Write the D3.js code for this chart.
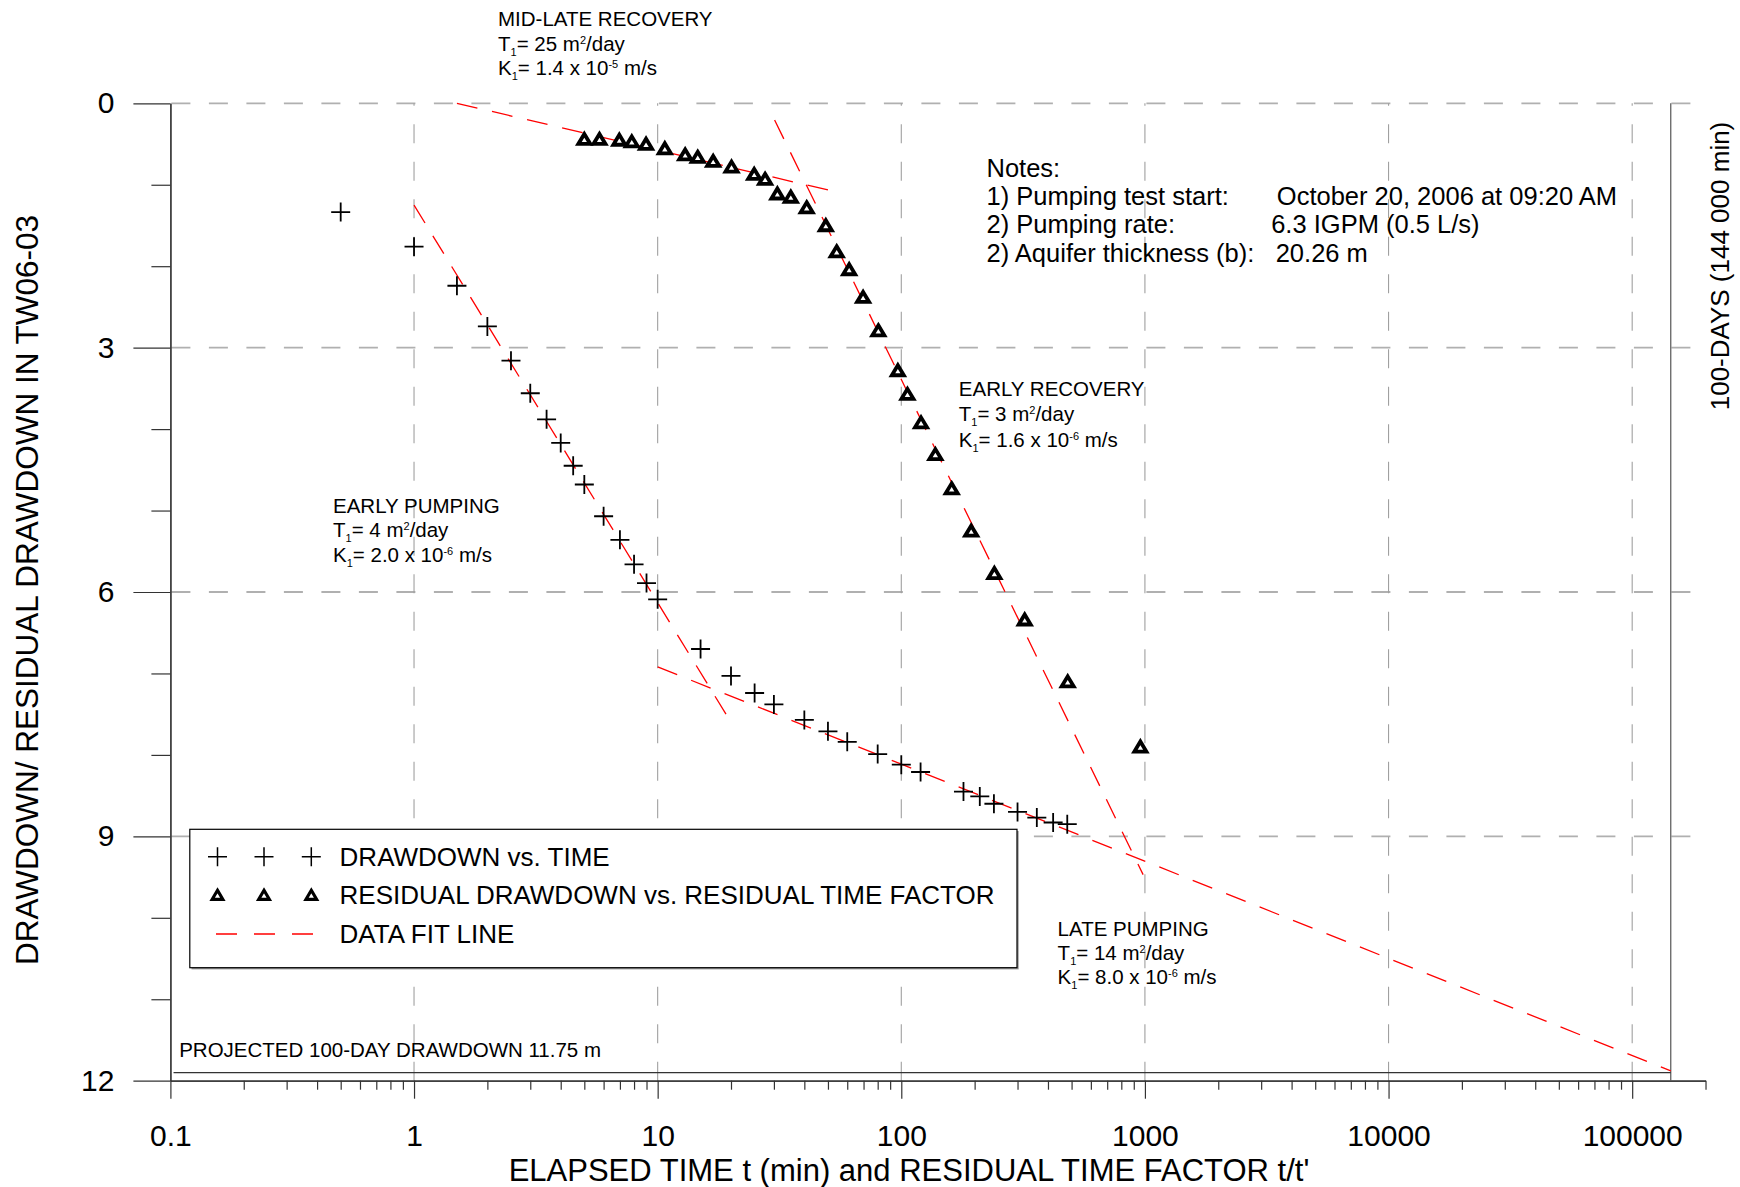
<!DOCTYPE html>
<html>
<head>
<meta charset="utf-8">
<script src="https://cdn.jsdelivr.net/npm/d3@7"></script>
<style>
  html, body { margin: 0; padding: 0; background: #fff; }
  svg { display: block; }
  text { font-family: "Liberation Sans", Arial, Helvetica, sans-serif; fill: #000; }
</style>
</head>
<body>
<svg id="chart" width="1740" height="1187"></svg>
<script>
// ---------------- DATA ----------------
// Drawdown vs. elapsed time (min, m)
const drawdownTime = [0.5, 1, 1.5, 2, 2.5, 3, 3.5, 4, 4.5, 5, 6, 7, 8, 9, 10, 15, 20, 25, 30, 40, 50, 60, 80, 100, 120, 180, 210, 240, 300, 360, 420, 480];
const drawdown     = [1.335, 1.76, 2.24, 2.74, 3.16, 3.56, 3.88, 4.17, 4.45, 4.68, 5.07, 5.36, 5.66, 5.89, 6.09, 6.70, 7.03, 7.24, 7.38, 7.57, 7.71, 7.84, 7.99, 8.12, 8.21, 8.45, 8.51, 8.60, 8.70, 8.77, 8.83, 8.85];

// Residual drawdown vs. residual time factor t/t'
const residualTimeFactor = [5.0, 5.77, 6.96, 7.83, 8.96, 10.7, 12.97, 14.6, 16.9, 20.1, 24.9, 27.6, 31.0, 35.2, 40.9, 49, 54.3, 61.1, 69.7, 80.5, 96.8, 106, 120.5, 138, 161, 193.6, 241, 321, 482, 958];
const residualDrawdown   = [0.43, 0.43, 0.44, 0.46, 0.49, 0.545, 0.62, 0.65, 0.70, 0.77, 0.86, 0.92, 1.10, 1.14, 1.27, 1.49, 1.81, 2.03, 2.37, 2.78, 3.27, 3.56, 3.91, 4.30, 4.72, 5.24, 5.76, 6.33, 7.09, 7.89];

// Data fit lines: [time, drawdown] end points
const fitEarlyPumping     = [[1, 1.25], [20, 7.6]];
const fitLatePumping      = [[10, 6.92], [144000, 11.88]];
const fitMidLateRecovery  = [[1.5, 0], [50.2, 1.065]];
const fitEarlyRecovery    = [[30.2, 0.205], [983, 9.47]];

// Reference lines
const hundredDaysMin = 144000;
const projectedLine = [[0.103, 11.9], [144000, 11.9]];

// Axes
const xDomain = [0.1, 200000];
const yDomain = [0, 12];
const xMajorTicks = [0.1, 1, 10, 100, 1000, 10000, 100000];
const xTickLabels = ["0.1", "1", "10", "100", "1000", "10000", "100000"];
const xMinorTicks = [0.2,0.3,0.4,0.5,0.6,0.7,0.8,0.9, 2,3,4,5,6,7,8,9, 20,30,40,50,60,70,80,90,
                     200,300,400,500,600,700,800,900, 2000,3000,4000,5000,6000,7000,8000,9000,
                     20000,30000,40000,50000,60000,70000,80000,90000, 200000];
const yMajorTicks = [0, 3, 6, 9, 12];
const yTickLabels = ["0", "3", "6", "9", "12"];
const yMinorTicks = [1, 2, 4, 5, 7, 8, 10, 11];
const yGridValues = [0, 3, 6, 9];
const xGridValues = [1, 10, 100, 1000, 10000, 100000];

const legendLabels = ["DRAWDOWN vs. TIME", "RESIDUAL DRAWDOWN vs. RESIDUAL TIME FACTOR", "DATA FIT LINE"];

// ---------------- LAYOUT ----------------
const svg = d3.select("#chart");
const FONT = '"Liberation Sans", Arial, Helvetica, sans-serif';
const pLeft = 170.4, pTop = 103.3, pBottom = 1080.7;
const decade = 243.63;
const pRight = pLeft + decade * Math.log10(xDomain[1] / xDomain[0]);

const x = d3.scaleLog().domain(xDomain).range([pLeft, pRight]);
const y = d3.scaleLinear().domain(yDomain).range([pTop, pBottom]);

const RED = "#ff0000";
const AXIS = "#333";

// ---------------- GRID ----------------
const grid = svg.append("g");
grid.selectAll("line.hg").data(yGridValues).enter().append("line")
  .attr("x1", pLeft + 1).attr("x2", pRight)
  .attr("y1", d => y(d)).attr("y2", d => y(d))
  .attr("stroke", "#b0b0b0").attr("stroke-width", 1.8)
  .attr("stroke-dasharray", "19,18.5");
grid.selectAll("line.vg").data(xGridValues).enter().append("line")
  .attr("x1", d => x(d)).attr("x2", d => x(d))
  .attr("y1", pBottom).attr("y2", pTop)
  .attr("stroke", "#a0a0a0").attr("stroke-width", 1.1)
  .attr("stroke-dasharray", "19,18.5");

// ---------------- AXES ----------------
function styleAxis(g) {
  g.select(".domain").attr("stroke", AXIS).attr("stroke-width", 1.2);
  g.selectAll(".tick line").attr("stroke", AXIS).attr("stroke-width", 1.2);
  g.selectAll(".tick text").attr("font-family", FONT).attr("fill", "#000");
}

const xAxisMajor = d3.axisBottom(x).tickValues(xMajorTicks)
  .tickFormat((d, i) => xTickLabels[i]).tickSize(18).tickSizeOuter(0).tickPadding(26);
const gx = svg.append("g").attr("transform", `translate(0,${pBottom})`).call(xAxisMajor);
styleAxis(gx);
gx.selectAll(".tick text").attr("font-size", 30);

const xAxisMinor = d3.axisBottom(x).tickValues(xMinorTicks).tickFormat("").tickSize(9).tickSizeOuter(0);
const gxm = svg.append("g").attr("transform", `translate(0,${pBottom})`).call(xAxisMinor);
styleAxis(gxm);

const yAxisMajor = d3.axisLeft(y).tickValues(yMajorTicks)
  .tickFormat((d, i) => yTickLabels[i]).tickSize(37).tickSizeOuter(0).tickPadding(19);
const gy = svg.append("g").attr("transform", `translate(${pLeft},0)`).call(yAxisMajor);
styleAxis(gy);
gy.selectAll(".tick text").attr("font-size", 30);

const yAxisMinor = d3.axisLeft(y).tickValues(yMinorTicks).tickFormat("").tickSize(19).tickSizeOuter(0);
const gym = svg.append("g").attr("transform", `translate(${pLeft},0)`).call(yAxisMinor);
styleAxis(gym);

// 100-day reference vertical line
svg.append("line")
  .attr("x1", x(hundredDaysMin)).attr("x2", x(hundredDaysMin))
  .attr("y1", y(yDomain[0])).attr("y2", y(yDomain[1]))
  .attr("stroke", "#555").attr("stroke-width", 1.2);

// Projected 100-day drawdown line
svg.append("line")
  .attr("x1", x(projectedLine[0][0])).attr("x2", x(projectedLine[1][0]))
  .attr("y1", y(projectedLine[0][1])).attr("y2", y(projectedLine[1][1]))
  .attr("stroke", "#333").attr("stroke-width", 1.3);

// ---------------- FIT LINES ----------------
const line = d3.line().x(d => x(d[0])).y(d => y(d[1]));
[fitEarlyPumping, fitLatePumping, fitMidLateRecovery, fitEarlyRecovery].forEach(f => {
  svg.append("path").attr("d", line(f))
    .attr("fill", "none").attr("stroke", RED).attr("stroke-width", 1.3)
    .attr("stroke-dasharray", "21,15");
});

// ---------------- POINTS ----------------
const plusPath = "M-9.5,0H9.5M0,-9.5V9.5";
const triPath = "M0,-4.4L6,5.6L-6,5.6Z";

svg.append("g").selectAll("path").data(drawdownTime.map((t, i) => [t, drawdown[i]]))
  .enter().append("path")
  .attr("d", plusPath)
  .attr("transform", d => `translate(${x(d[0])},${y(d[1])})`)
  .attr("stroke", "#000").attr("stroke-width", 1.8).attr("fill", "none");

svg.append("g").selectAll("path").data(residualTimeFactor.map((t, i) => [t, residualDrawdown[i]]))
  .enter().append("path")
  .attr("d", triPath)
  .attr("transform", d => `translate(${x(d[0])},${y(d[1])})`)
  .attr("stroke", "#000").attr("stroke-width", 3.8).attr("fill", "#fff")
  .attr("stroke-linejoin", "miter");

// ---------------- LEGEND ----------------
const lg = svg.append("g");
lg.append("rect").attr("x", 191.5).attr("y", 831).attr("width", 827.2).attr("height", 138.4)
  .attr("fill", "#999");
lg.append("rect").attr("x", 189.8).attr("y", 829.3).attr("width", 827.2).attr("height", 138.4)
  .attr("fill", "#fff").attr("stroke", "#000").attr("stroke-width", 1.2);
const legMarkX = [217.5, 264, 311.3];
const legRowY = [856.7, 894.3, 934];
lg.selectAll("path.lp").data(legMarkX).enter().append("path")
  .attr("d", plusPath).attr("transform", d => `translate(${d},${legRowY[0]})`)
  .attr("stroke", "#000").attr("stroke-width", 1.5).attr("fill", "none");
lg.selectAll("path.lt").data(legMarkX).enter().append("path")
  .attr("d", "M0,-4L5.3,5L-5.3,5Z").attr("transform", d => `translate(${d},${legRowY[1]})`)
  .attr("stroke", "#000").attr("stroke-width", 3.2).attr("fill", "#fff");
lg.append("line").attr("x1", 216).attr("x2", 313).attr("y1", legRowY[2]).attr("y2", legRowY[2])
  .attr("stroke", RED).attr("stroke-width", 1.4).attr("stroke-dasharray", "21,17");
lg.selectAll("text").data(legendLabels).enter().append("text")
  .attr("x", 339.6).attr("y", (d, i) => legRowY[i] + 9.2)
  .attr("font-size", 26).text(d => d);

// ---------------- TEXT ----------------
function paramBlock(x0, y0, title, tVal, kMant, kExp, lh) {
  const g = svg.append("g").attr("font-size", 20.5);
  g.append("text").attr("x", x0).attr("y", y0).text(title);
  const t = g.append("text").attr("x", x0).attr("y", y0 + lh);
  t.append("tspan").text("T");
  t.append("tspan").attr("font-size", 11).attr("dy", 5).text("1");
  t.append("tspan").attr("dy", -5).text("= " + tVal + " m");
  t.append("tspan").attr("font-size", 11).attr("dy", -7).text("2");
  t.append("tspan").attr("dy", 7).text("/day");
  const k = g.append("text").attr("x", x0).attr("y", y0 + 2 * lh);
  k.append("tspan").text("K");
  k.append("tspan").attr("font-size", 11).attr("dy", 5).text("1");
  k.append("tspan").attr("dy", -5).text("= " + kMant + " x 10");
  k.append("tspan").attr("font-size", 11).attr("dy", -7).text(kExp);
  k.append("tspan").attr("dy", 7).text(" m/s");
}
paramBlock(498, 26, "MID-LATE RECOVERY", "25", "1.4", "-5", 24.5);
paramBlock(958.8, 396, "EARLY RECOVERY", "3", "1.6", "-6", 25.3);
paramBlock(333, 512.7, "EARLY PUMPING", "4", "2.0", "-6", 24.5);
paramBlock(1057.6, 935.7, "LATE PUMPING", "14", "8.0", "-6", 24.3);

svg.append("text").attr("x", 179.2).attr("y", 1057.3).attr("font-size", 20.5)
  .text("PROJECTED 100-DAY DRAWDOWN 11.75 m");

// Notes
const notes = svg.append("g").attr("font-size", 25.5);
const noteY = [176.7, 205, 233, 261.7];
notes.append("text").attr("x", 986.5).attr("y", noteY[0]).text("Notes:");
const noteRows = [
  ["1) Pumping test start:", "October 20, 2006 at 09:20 AM", 1276.8],
  ["2) Pumping rate:", "6.3 IGPM (0.5 L/s)", 1271.2],
  ["2) Aquifer thickness (b):", "20.26 m", 1275.7]
];
noteRows.forEach((r, i) => {
  notes.append("text").attr("x", 986.5).attr("y", noteY[i + 1]).text(r[0]);
  notes.append("text").attr("x", r[2]).attr("y", noteY[i + 1]).text(r[1]);
});

// Axis titles
svg.append("text").attr("transform", "translate(38,590) rotate(-90)")
  .attr("text-anchor", "middle").attr("font-size", 31.5)
  .text("DRAWDOWN/ RESIDUAL DRAWDOWN IN TW06-03");
svg.append("text").attr("x", 909).attr("y", 1181)
  .attr("text-anchor", "middle").attr("font-size", 31)
  .text("ELAPSED TIME t (min) and RESIDUAL TIME FACTOR t/t'");
svg.append("text").attr("transform", "translate(1729,266) rotate(-90)")
  .attr("text-anchor", "middle").attr("font-size", 26)
  .text("100-DAYS (144 000 min)");
</script>
</body>
</html>
